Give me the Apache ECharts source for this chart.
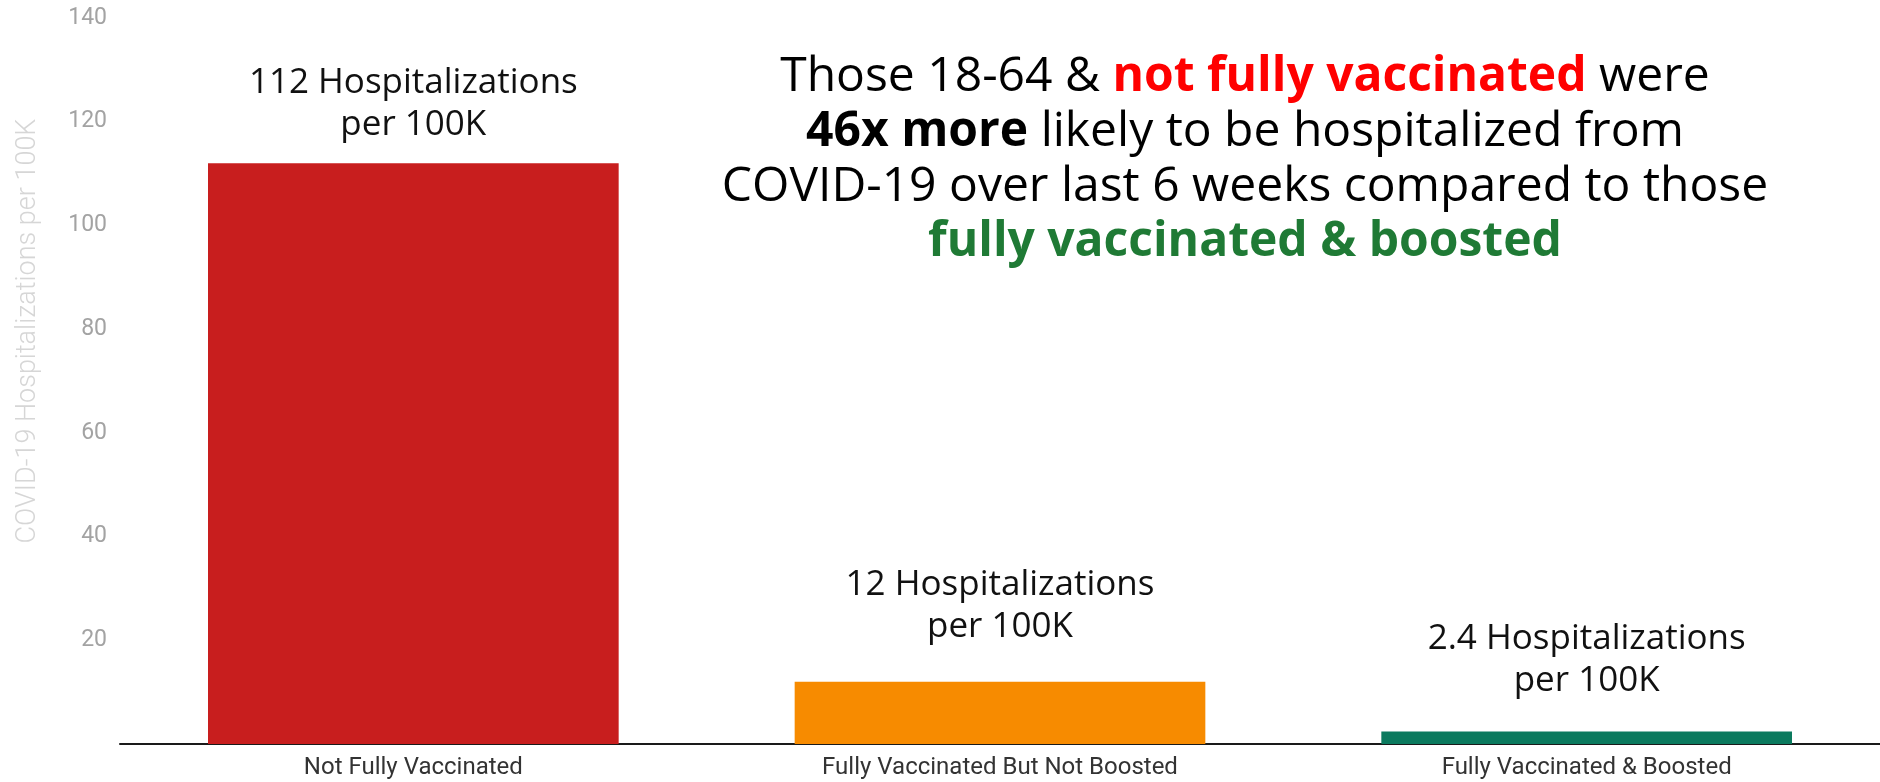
<!DOCTYPE html>
<html>
<head>
<meta charset="utf-8">
<script src="https://cdn.jsdelivr.net/npm/echarts@6/dist/echarts.min.js"></script>
<style>
html,body{margin:0;padding:0;background:#fff;}
#chart{width:1880px;height:782px;}
</style>
</head>
<body>
<div id="chart"></div>
<script>
const categories = ['Not Fully Vaccinated', 'Fully Vaccinated But Not Boosted', 'Fully Vaccinated & Boosted'];
const values = [112, 12, 2.4];
const valueLabels = ['112', '12', '2.4'];
const barColors = ['#C81E1E', '#F78B00', '#0B7A5E'];
const labelGaps = [17, 34, 30];
const yTicks = [0, 20, 40, 60, 80, 100, 120, 140];
const yAxisTitle = 'COVID-19 Hospitalizations per 100K';

const chart = echarts.init(document.getElementById('chart'));

const option = {
  animation: false,
  backgroundColor: '#ffffff',
  grid: { left: 120, right: 0, top: 18, bottom: 38, containLabel: false },
  xAxis: {
    type: 'category',
    data: categories,
    axisLine: { show: true, lineStyle: { color: '#1a1a1a', width: 2 } },
    axisTick: { show: false },
    axisLabel: { margin: 12, fontFamily: 'Roboto', fontSize: 24, color: '#333333' },
    splitLine: { show: false }
  },
  yAxis: {
    type: 'value',
    min: yTicks[0],
    max: yTicks[yTicks.length - 1],
    interval: yTicks[1] - yTicks[0],
    axisLine: { show: false },
    axisTick: { show: false },
    splitLine: { show: false },
    axisLabel: {
      margin: 13,
      fontFamily: 'Roboto',
      fontSize: 23,
      color: '#a3a3a3',
      formatter: function (v) { return v === 0 ? '' : String(v); }
    }
  },
  graphic: [
    {
      type: 'text',
      x: 28,
      y: 331,
      rotation: Math.PI / 2,
      style: {
        text: yAxisTitle,
        align: 'center',
        verticalAlign: 'middle',
        fontFamily: 'Roboto',
        fontWeight: 300,
        fontSize: 27,
        fill: '#d6d6d6'
      }
    },
    {
      type: 'text',
      x: 1245,
      y: 160,
      style: {
        text: '{n|Those 18-64 & }{r|not fully vaccinated}{n| were}\n{b|46x more}{n| likely to be hospitalized from}\n{n|COVID-19 over last 6 weeks compared to those}\n{g|fully vaccinated & boosted}',
        align: 'center',
        verticalAlign: 'middle',
        fontFamily: 'Open Sans',
        fontSize: 48,
        lineHeight: 55,
        fill: '#000',
        rich: {
          n: { align: 'center', fontFamily: 'Open Sans', fontSize: 48, lineHeight: 55, fill: '#000000' },
          r: { align: 'center', fontFamily: 'Open Sans', fontSize: 48, lineHeight: 55, fontWeight: 'bold', fill: '#FF0000' },
          b: { align: 'center', fontFamily: 'Open Sans', fontSize: 48, lineHeight: 55, fontWeight: 'bold', fill: '#000000' },
          g: { align: 'center', fontFamily: 'Open Sans', fontSize: 48, lineHeight: 55, fontWeight: 'bold', fill: '#1F7A35' }
        }
      }
    }
  ],
  series: [{
    type: 'bar',
    barCategoryGap: '30%',
    data: values.map(function (v, i) {
      return {
        value: v,
        itemStyle: { color: barColors[i] },
        label: {
          show: true,
          position: 'top',
          distance: labelGaps[i],
          formatter: valueLabels[i] + ' Hospitalizations\nper 100K',
          fontFamily: 'Open Sans',
          fontSize: 35,
          lineHeight: 42,
          color: '#111111',
          align: 'center'
        }
      };
    })
  }]
};

chart.setOption(option);
</script>
</body>
</html>
